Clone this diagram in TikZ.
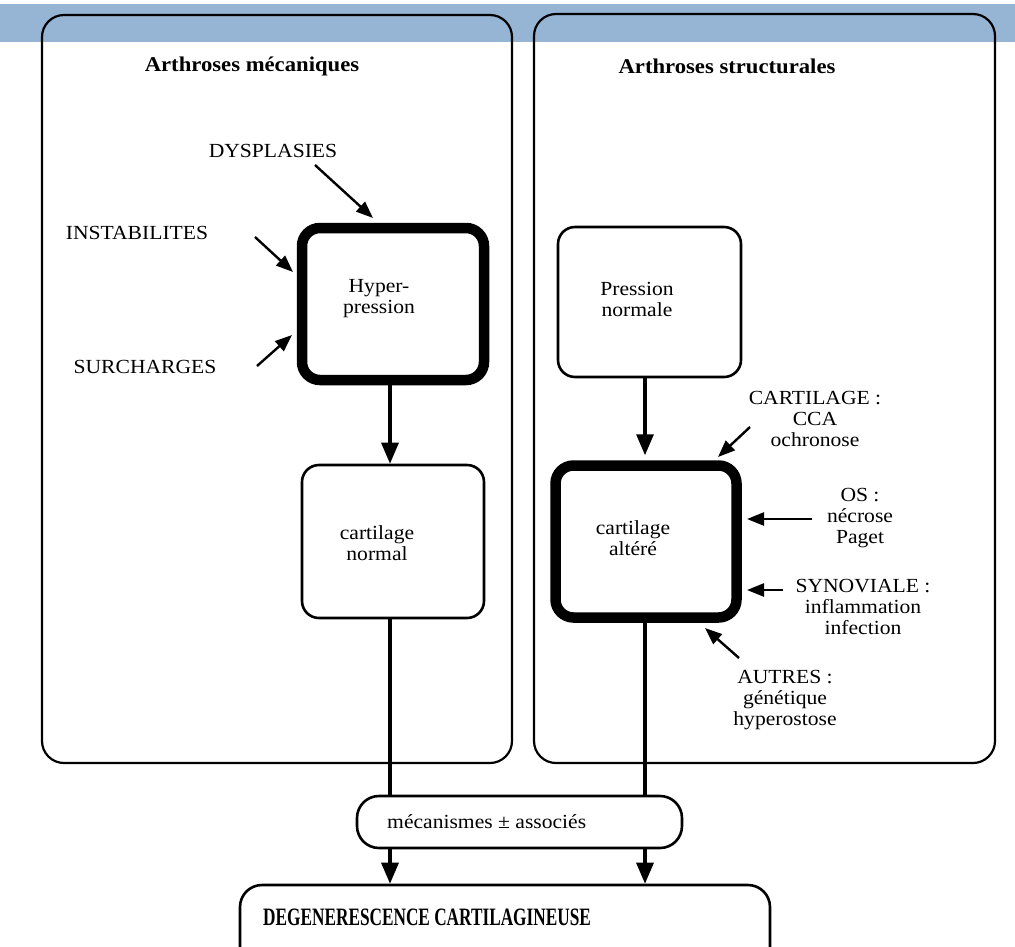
\documentclass[tikz,border=0pt]{standalone}
\usepackage{fontspec}
\setmainfont{Liberation Serif}[FakeStretch=1.08]
\newfontfamily\condserif{Liberation Serif}[FakeStretch=0.69]
\usetikzlibrary{arrows.meta}
\definecolor{bandblue}{RGB}{150,180,212}
\tikzset{
  bigbox/.style={draw, line width=2.2pt, rounded corners=22pt, inner sep=0pt},
  thinbox/.style={draw, line width=2.6pt, rounded corners=17pt, inner sep=0pt},
  thickbox/.style={draw, line width=10.5pt, rounded corners=18pt, inner sep=0pt},
  lbl/.style={font=\fontsize{20}{21}\selectfont, align=center, inner sep=0pt},
  ttl/.style={font=\fontsize{21}{23}\selectfont\bfseries, inner sep=0pt, anchor=base},
  mainarrow/.style={line width=3.2pt, -{Triangle[length=21pt,width=17pt]}},
  mainline/.style={line width=3.2pt},
  sidearrow/.style={line width=2.4pt, -{Triangle[length=17pt,width=13pt]}}
}
\begin{document}
\begin{tikzpicture}[x=1pt,y=-1pt]
\useasboundingbox (0,0) rectangle (1015,946);
\fill[white] (0,0) rectangle (1015,946);
\clip (0,0) rectangle (1015,946);
\fill[bandblue] (0,4) rectangle (1015,42);

% panels
\node[bigbox, minimum width=470pt, minimum height=748pt] (leftpanel) at (277,389) {};
\node[bigbox, minimum width=461pt, minimum height=749pt] (rightpanel) at (764.5,388.5) {};
\node[ttl] (tl) at (252,71) {Arthroses mécaniques};
\node[ttl] (tr) at (727,73) {Arthroses structurales};

% boxes
\node[thickbox, minimum width=182pt, minimum height=152pt] (hyp) at (393,304) {};
\node[lbl] (hyptxt) at (379,299) {Hyper-\\pression};
\node[thinbox, minimum width=182pt, minimum height=153pt] (cn) at (393,541.5) {};
\node[lbl] (cntxt) at (377,543) {cartilage\\normal};
\node[thinbox, minimum width=183pt, minimum height=150pt] (pn) at (649.5,302) {};
\node[lbl] (pntxt) at (637,299) {Pression\\normale};
\node[thickbox, minimum width=181pt, minimum height=152pt] (ca) at (646,541.5) {};
\node[lbl] (catxt) at (633,538) {cartilage\\altéré};
\node[thinbox, rounded corners=22pt, minimum width=325pt, minimum height=52pt] (mec) at (519.5,822) {};
\node[lbl, anchor=west] (mectxt) at (387,822) {mécanismes ± associés};
\node[thinbox, rounded corners=22pt, minimum width=530pt, minimum height=110pt] (deg) at (505,940) {};
\node[anchor=west, inner sep=0pt, font=\condserif\bfseries\fontsize{25}{27}\selectfont] (degtxt) at (263,917) {DEGENERESCENCE CARTILAGINEUSE};

% side labels
\node[lbl] (dys) at (273,151) {DYSPLASIES};
\node[lbl] (ins) at (137,233) {INSTABILITES};
\node[lbl] (sur) at (145,367) {SURCHARGES};
\node[lbl] (cart) at (815,419) {CARTILAGE :\\CCA\\ochronose};
\node[lbl] (os) at (860,518) {OS :\\nécrose\\Paget};
\node[lbl] (syn) at (863,607) {SYNOVIALE :\\inflammation\\infection};
\node[lbl] (aut) at (785,700) {AUTRES :\\génétique\\hyperostose};

% side arrows
\coordinate (dysA) at (315,165); \coordinate (dysB) at (373,218);
\coordinate (insA) at (255,237); \coordinate (insB) at (293,272);
\coordinate (surA) at (257,366); \coordinate (surB) at (292,335);
\coordinate (cartA) at (750,427); \coordinate (cartB) at (718,457);
\coordinate (osA) at (812,519); \coordinate (osB) at (747,519);
\coordinate (synA) at (783,590); \coordinate (synB) at (747,590);
\coordinate (autA) at (739,658); \coordinate (autB) at (705,628);
\draw[sidearrow] (dysA) -- (dysB);
\draw[sidearrow] (insA) -- (insB);
\draw[sidearrow] (surA) -- (surB);
\draw[sidearrow] (cartA) -- (cartB);
\draw[sidearrow] (osA) -- (osB);
\draw[sidearrow] (synA) -- (synB);
\draw[sidearrow] (autA) -- (autB);

% main flow
\coordinate (colL) at (390,0);
\coordinate (colR) at (645,0);
\draw[mainarrow] (colL |- hyp.south) -- (colL |- cn.north);
\draw[mainline] (colL |- cn.south) -- (colL |- mec.north);
\draw[mainarrow] (colL |- mec.south) -- (colL |- deg.north);
\draw[mainarrow, shorten >=5pt] (colR |- pn.south) -- (colR |- ca.north);
\draw[mainline] (colR |- ca.south) -- (colR |- mec.north);
\draw[mainarrow] (colR |- mec.south) -- (colR |- deg.north);
\end{tikzpicture}
\end{document}
